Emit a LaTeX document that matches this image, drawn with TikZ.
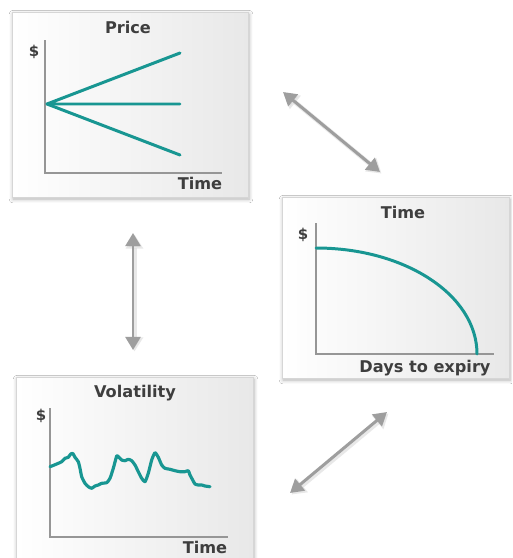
\documentclass[tikz,border=0pt]{standalone}
\usepackage{fontspec}
\setmainfont{DejaVu Sans}
\usetikzlibrary{arrows.meta,shadows.blur,fit}
\definecolor{tealc}{RGB}{24,150,146}
\definecolor{txt}{RGB}{62,62,62}
\definecolor{axisc}{RGB}{150,150,150}
\definecolor{arrc}{RGB}{158,158,158}
\definecolor{framec}{RGB}{214,214,214}
\tikzset{
  panel/.style={draw=framec, line width=0.5pt, rectangle, inner sep=0pt,
    left color=white, right color=black!9,
    blur shadow={shadow xshift=0.6pt, shadow yshift=-1.2pt, shadow blur steps=6, shadow opacity=30}},
  ttl/.style={text=txt, font=\fontsize{9.2}{11}\selectfont\bfseries, inner sep=0pt},
  dol/.style={text=txt, font=\fontsize{8.5}{10}\selectfont\bfseries, inner sep=0pt},
  axisline/.style={draw=axisc, line width=0.6pt},
  curve/.style={draw=tealc, line width=1.7pt, line cap=round, line join=round},
  dbl/.style={draw=arrc, line width=1.7pt, {Triangle[length=7.5pt,width=8.5pt]}-{Triangle[length=7.5pt,width=8.5pt]}},
  dblsh/.style={draw=black!15, line width=2.6pt, opacity=0.6, {Triangle[length=8pt,width=9.5pt]}-{Triangle[length=8pt,width=9.5pt]}},
}
\begin{document}
\begin{tikzpicture}[x=0.02cm,y=-0.02cm]
\useasboundingbox (0,0) rectangle (512,558);
\clip (0,0) rectangle (512,558);
\fill[white] (0,0) rectangle (512,558);
% panels
\node[panel, fit={(12,12)(248,197)}] (price) {};
\node[panel, fit={(282,197)(509,378)}] (time) {};
\node[panel, fit={(16,377)(253,566)}] (vol) {};
% Price panel
\node[ttl] (priceT) at (128,27) {Price};
\node[dol] (priceD) at (34,52) {\$};
\node[ttl] (priceX) at (200,183) {Time};
\draw[axisline] (45,40) -- (45,173) -- (222,173);
\coordinate (po) at (47,104);
\coordinate (pu) at (180,53);
\coordinate (pm) at (180,104);
\coordinate (pl) at (180,155);
\draw[curve] (pu) -- (po) -- (pm);
\draw[curve] (po) -- (pl);
% Time panel
\node[ttl] (timeT) at (403,212) {Time};
\node[dol] (timeD) at (303,235) {\$};
\node[ttl] (timeX) at (425,368) {Days to expiry};
\draw[axisline] (316,223) -- (316,354) -- (494,354);
\coordinate (ts) at (316,248);
\coordinate (te) at (477,354);
\draw[curve] (ts) .. controls (405,248) and (477,295) .. (te);
% Volatility panel
\node[ttl] (volT) at (135,393) {Volatility};
\node[dol] (volD) at (41,416) {\$};
\node[ttl] (volX) at (205,547) {Time};
\draw[axisline] (50,408) -- (50,537) -- (228,537);
\draw[curve, line width=1.8pt] plot[smooth, tension=0.35] coordinates {
(50,466.7) (56.7,464) (61.7,461.7) (65,458.3) (68.3,457.3) (70.7,454) (72.7,453.3)
(75,457.3) (78.3,461.7) (80,468.3) (81.7,476.7) (85,483.3) (88.3,486.7) (91.7,488.3)
(95,486) (98.3,485) (101.7,483.3) (106.7,482.7) (110,478.3) (113.3,468.3) (116.7,456)
(118.3,456.7) (121.7,460) (125,460.7) (128.3,459.3) (131.7,460.7) (135,465) (138.3,471.7)
(141.7,478.3) (145,481.7) (148.3,473.3) (151.7,460) (155,452.7) (158.3,457.3) (161.7,465)
(165,468.3) (170,469.3) (175,470.7) (180,471.7) (185,471.7) (188.3,470.7) (190,475)
(192.7,480) (195,484) (198.3,485) (201.7,485) (205,486) (210,486.7)};
% arrows
\coordinate (a1s) at (283,92);
\coordinate (a1e) at (380,172);
\coordinate (a2s) at (133,233);
\coordinate (a2e) at (133,350);
\coordinate (a3s) at (387,412);
\coordinate (a3e) at (290,493);
\coordinate (a1ss) at (284.5,93.5);
\coordinate (a1es) at (381.5,173.5);
\coordinate (a2ss) at (134.5,234.5);
\coordinate (a2es) at (134.5,351.5);
\coordinate (a3ss) at (388.5,413.5);
\coordinate (a3es) at (291.5,494.5);
\draw[dblsh] (a1ss) -- (a1es);
\draw[dblsh] (a2ss) -- (a2es);
\draw[dblsh] (a3ss) -- (a3es);
\draw[dbl] (a1s) -- (a1e);
\draw[dbl] (a2s) -- (a2e);
\draw[dbl] (a3s) -- (a3e);
\end{tikzpicture}
\end{document}
